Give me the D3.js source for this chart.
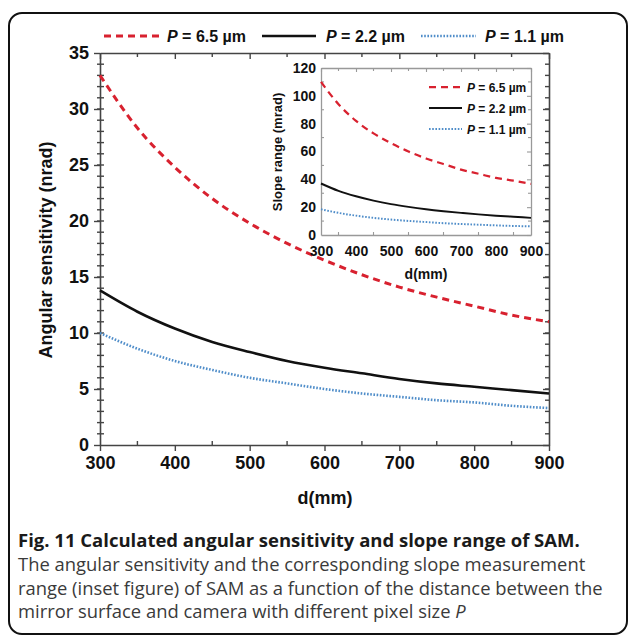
<!DOCTYPE html>
<html>
<head>
<meta charset="utf-8">
<script src="https://cdn.jsdelivr.net/npm/d3@7/dist/d3.min.js"></script>
<style>
  body { margin: 0; background: #fff; }
  text { font-family: "Liberation Sans", Arial, sans-serif; }
  .cap { font-family: "Open Sans", "Noto Sans", sans-serif; }
</style>
</head>
<body>
<svg id="fig" width="629" height="636"></svg>
<script>
// distance between mirror and camera (mm)
var distances = [300, 350, 400, 450, 500, 550, 600, 650, 700, 750, 800, 850, 900];

// main plot: angular sensitivity (nrad)
var sens65 = [33.0, 28.3, 24.8, 22.0, 19.8, 18.0, 16.5, 15.2, 14.1, 13.2, 12.4, 11.6, 11.0];
var sens22 = [13.8, 11.9, 10.4, 9.2, 8.3, 7.5, 6.9, 6.4, 5.9, 5.5, 5.2, 4.9, 4.6];
var sens11 = [10.0, 8.6, 7.5, 6.7, 6.0, 5.5, 5.0, 4.6, 4.3, 4.0, 3.8, 3.5, 3.3];

// inset: slope range (mrad)
var range65 = [110, 94, 82, 73, 66, 60, 55, 51, 47, 44, 41, 39, 36.7];
var range22 = [37, 31.7, 27.8, 24.7, 22.2, 20.2, 18.5, 17.1, 15.9, 14.8, 13.9, 13.1, 12.3];
var range11 = [18.5, 15.9, 13.9, 12.3, 11.1, 10.1, 9.3, 8.5, 7.9, 7.4, 6.9, 6.5, 6.2];

var seriesLabels = ["6.5", "2.2", "1.1"];
var xTicks = [300, 400, 500, 600, 700, 800, 900];
var yTicks = [0, 5, 10, 15, 20, 25, 30, 35];
var insetYTicks = [0, 20, 40, 60, 80, 100, 120];

var captionTitle = "Fig. 11 Calculated angular sensitivity and slope range of SAM.";
var captionLines = [
  "The angular sensitivity and the corresponding slope measurement",
  "range (inset figure) of SAM as a function of the distance between the",
  "mirror surface and camera with different pixel size "
];

var styles = [
  { color: "#d8212f", dash: "7,5", width: 3 },
  { color: "#111111", dash: null, width: 2.6 },
  { color: "#4f8dc9", dash: "1.6,1.6", width: 2.6 }
];

var svg = d3.select("#fig");

// outer rounded frame
svg.append("rect")
  .attr("x", 9).attr("y", 13)
  .attr("width", 618).attr("height", 621)
  .attr("rx", 13)
  .attr("fill", "none").attr("stroke", "#111").attr("stroke-width", 2);

/*
  generic framed plot with ticks on four sides
*/
function drawPanel(g, x, y, opt) {
  var x0 = x.range()[0], x1 = x.range()[1];
  var y0 = y.range()[0], y1 = y.range()[1];

  // minor ticks
  function tickLines(vals, fn) {
    g.append("g").selectAll("line").data(vals).enter().append("line")
      .each(fn)
      .attr("stroke", opt.axisColor).attr("stroke-width", opt.tickWidth);
  }
  tickLines(opt.xMinor, function(d) {
    d3.select(this).attr("x1", x(d)).attr("x2", x(d)).attr("y1", y0).attr("y2", y0 - opt.minorLen);
  });
  tickLines(opt.xMinor, function(d) {
    d3.select(this).attr("x1", x(d)).attr("x2", x(d)).attr("y1", y1).attr("y2", y1 + opt.minorLen);
  });
  tickLines(opt.yMinor, function(d) {
    d3.select(this).attr("x1", x0 - opt.minorOut).attr("x2", x0 + opt.minorLen).attr("y1", y(d)).attr("y2", y(d));
  });
  tickLines(opt.yMinor, function(d) {
    d3.select(this).attr("x1", x1).attr("x2", x1 - opt.minorLen).attr("y1", y(d)).attr("y2", y(d));
  });

  var bottom = g.append("g").attr("transform", "translate(0," + y0 + ")")
    .call(d3.axisBottom(x).tickValues(opt.xTicks).tickSize(opt.majorOut).tickSizeOuter(0).tickPadding(opt.xPad));
  var top = g.append("g").attr("transform", "translate(0," + y1 + ")")
    .call(d3.axisTop(x).tickValues(opt.xTicks).tickSize(-opt.majorIn).tickSizeOuter(0).tickFormat(""));
  var left = g.append("g").attr("transform", "translate(" + x0 + ",0)")
    .call(d3.axisLeft(y).tickValues(opt.yTicks).tickSize(opt.majorOut).tickSizeOuter(0).tickPadding(opt.yPad));
  var right = g.append("g").attr("transform", "translate(" + x1 + ",0)")
    .call(d3.axisRight(y).tickValues(opt.yTicks).tickSize(-opt.majorIn).tickSizeOuter(0).tickFormat(""));

  [bottom, top, left, right].forEach(function(a) {
    a.select(".domain").attr("stroke", opt.axisColor).attr("stroke-width", opt.domainWidth);
    a.selectAll(".tick line").attr("stroke", opt.axisColor).attr("stroke-width", opt.tickWidth);
    a.selectAll(".tick text")
      .attr("fill", "#111").attr("font-weight", "bold")
      .attr("font-size", opt.fontSize)
      .style("font-family", "'Liberation Sans', Arial, sans-serif");
  });
}

function drawSeries(g, x, y, values, st, widthScale) {
  var line = d3.line()
    .x(function(d, i) { return x(distances[i]); })
    .y(function(d) { return y(d); })
    .curve(d3.curveMonotoneX);
  g.append("path")
    .datum(values)
    .attr("d", line)
    .attr("fill", "none")
    .attr("stroke", st.color)
    .attr("stroke-width", st.width * widthScale)
    .attr("stroke-dasharray", st.dash);
}

function legendText(sel, label, size) {
  sel.attr("font-weight", "bold").attr("font-size", size).attr("fill", "#111");
  sel.append("tspan").attr("font-style", "italic").text("P");
  sel.append("tspan").text(" = " + label + " \u00b5m");
}

/*
  main plot
*/
var xMain = d3.scaleLinear().domain([300, 900]).range([100, 549]);
var yMain = d3.scaleLinear().domain([0, 35]).range([445, 53]);
var main = svg.append("g");

drawPanel(main, xMain, yMain, {
  xTicks: xTicks, yTicks: yTicks,
  xMinor: d3.range(350, 900, 100), yMinor: d3.range(1, 35, 1),
  axisColor: "#444", domainWidth: 1.6, tickWidth: 1.4,
  majorOut: 6, majorIn: 6, minorLen: 4, minorOut: 3,
  fontSize: 18, xPad: 5, yPad: 5
});

[sens65, sens22, sens11].forEach(function(vals, i) {
  drawSeries(main, xMain, yMain, vals, styles[i], 1);
});

main.append("text")
  .attr("transform", "translate(52,250) rotate(-90)")
  .attr("text-anchor", "middle")
  .attr("font-weight", "bold").attr("font-size", 18).attr("fill", "#111")
  .text("Angular sensitivity (nrad)");

main.append("text")
  .attr("x", 325).attr("y", 504)
  .attr("text-anchor", "middle")
  .attr("font-weight", "bold").attr("font-size", 18).attr("fill", "#111")
  .text("d(mm)");

// top legend
var topLegendX = [[104, 160, 167], [262, 316, 326], [421, 476, 485]];
styles.forEach(function(st, i) {
  var p = topLegendX[i];
  main.append("line")
    .attr("x1", p[0]).attr("x2", p[1]).attr("y1", 36).attr("y2", 36)
    .attr("stroke", st.color).attr("stroke-width", st.width)
    .attr("stroke-dasharray", st.dash);
  main.append("text").attr("x", p[2]).attr("y", 42)
    .call(legendText, seriesLabels[i], 16);
});

/*
  inset
*/
var xIn = d3.scaleLinear().domain([300, 900]).range([321, 531]);
var yIn = d3.scaleLinear().domain([0, 120]).range([235, 68]);
var inset = svg.append("g");

drawPanel(inset, xIn, yIn, {
  xTicks: xTicks, yTicks: insetYTicks,
  xMinor: d3.range(350, 900, 100), yMinor: d3.range(10, 120, 20),
  axisColor: "#999", domainWidth: 1.3, tickWidth: 1.1,
  majorOut: 0, majorIn: 4, minorLen: 3, minorOut: 0,
  fontSize: 14, xPad: 11, yPad: 5
});

[range65, range22, range11].forEach(function(vals, i) {
  drawSeries(inset, xIn, yIn, vals, styles[i], 0.75);
});

inset.append("text")
  .attr("transform", "translate(282,152) rotate(-90)")
  .attr("text-anchor", "middle")
  .attr("font-weight", "bold").attr("font-size", 13).attr("fill", "#111")
  .text("Slope range (mrad)");

inset.append("text")
  .attr("x", 426).attr("y", 279)
  .attr("text-anchor", "middle")
  .attr("font-weight", "bold").attr("font-size", 14).attr("fill", "#111")
  .text("d(mm)");

styles.forEach(function(st, i) {
  var yy = 87 + i * 21;
  inset.append("line")
    .attr("x1", 429).attr("x2", 462).attr("y1", yy).attr("y2", yy)
    .attr("stroke", st.color).attr("stroke-width", st.width * 0.75)
    .attr("stroke-dasharray", st.dash);
  inset.append("text").attr("x", 467).attr("y", yy + 4.5)
    .call(legendText, seriesLabels[i], 12);
});

/*
  caption
*/
svg.append("text").attr("class", "cap")
  .attr("x", 18).attr("y", 547)
  .attr("font-weight", "bold").attr("font-size", 18.5).attr("fill", "#1a1a1a")
  .text(captionTitle);

captionLines.forEach(function(t, i) {
  var tx = svg.append("text").attr("class", "cap")
    .attr("x", 18).attr("y", 571 + i * 23.5)
    .attr("font-size", 18.4).attr("fill", "#3a3a3a")
    .text(t);
  if (i === captionLines.length - 1) {
    tx.append("tspan").attr("font-style", "italic").text("P");
  }
});
</script>
</body>
</html>
